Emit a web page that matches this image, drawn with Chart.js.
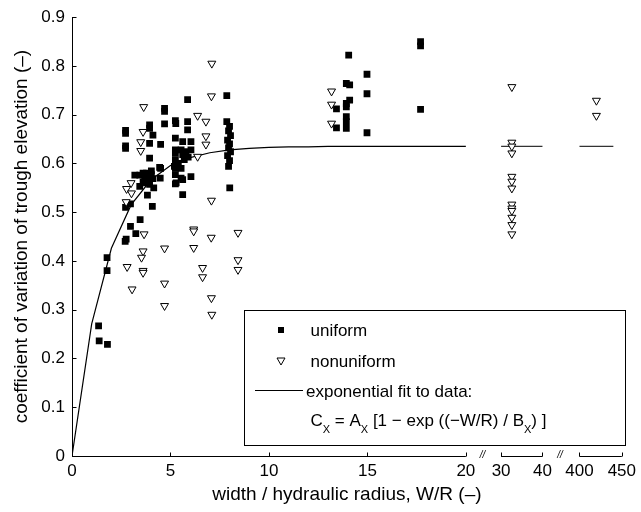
<!DOCTYPE html>
<html>
<head>
<meta charset="utf-8">
<script src="https://cdn.jsdelivr.net/npm/chart.js@4.4.1/dist/chart.umd.min.js"></script>
<style>
  html, body { margin: 0; padding: 0; background: #fff; }
</style>
</head>
<body>
<canvas id="troughChart" width="641" height="512"></canvas>
<script>
const uniformX = [1.35, 1.38, 1.8, 1.78, 1.78,
  2.7, 2.75, 2.72, 2.72, 2.72, 2.72, 2.72, 2.97, 2.97, 3.24, 3.46,
  3.19, 3.44, 3.69, 4.03, 3.44, 3.78, 4.15, 4.48, 3.86, 3.61, 3.94, 4.11, 4.03, 3.61, 3.83, 4.08,
  4.5, 3.94, 3.94, 4.5, 4.11, 3.94, 3.94, 4.7, 4.7, 4.7, 3.78,
  5.25, 5.27, 5.87, 5.87, 5.87, 5.25, 5.62, 6.04, 5.25, 5.25, 5.54, 5.79, 6.04, 5.25, 5.25, 5.25,
  5.54, 5.54, 6.04, 5.25, 5.62, 5.29, 5.62, 5.62, 5.2, 5.4, 5.7, 5.9, 4.45,
  7.86, 7.86, 8.0, 7.95, 8.05, 7.9, 8.0, 7.95, 8.05, 7.9, 8.0, 7.95, 8.01,
  14.05, 14.98, 13.93, 14.1, 14.98, 14.1, 13.93, 13.43, 13.93, 13.93, 13.93, 13.43, 13.93, 14.98,
  17.7, 17.7, 17.7];
const uniformY = [0.267, 0.236, 0.229, 0.407, 0.380,
  0.440, 0.445, 0.510, 0.631, 0.636, 0.662, 0.668, 0.471, 0.517, 0.456, 0.485,
  0.576, 0.576, 0.573, 0.577, 0.553, 0.560, 0.550, 0.570, 0.567, 0.562, 0.557, 0.569, 0.585, 0.580, 0.535, 0.512,
  0.590, 0.611, 0.641, 0.639, 0.658, 0.672, 0.679, 0.713, 0.707, 0.681, 0.580,
  0.688, 0.682, 0.731, 0.686, 0.669, 0.652, 0.645, 0.645, 0.628, 0.621, 0.628, 0.624, 0.628, 0.608, 0.590, 0.577,
  0.590, 0.570, 0.573, 0.558, 0.536, 0.560, 0.567, 0.618, 0.594, 0.600, 0.608, 0.613, 0.592,
  0.739, 0.686, 0.676, 0.667, 0.657, 0.648, 0.640, 0.632, 0.624, 0.616, 0.606, 0.594, 0.550,
  0.822, 0.783, 0.764, 0.761, 0.743, 0.730, 0.723, 0.712, 0.716, 0.696, 0.686, 0.673, 0.672, 0.663,
  0.850, 0.841, 0.711];

const nonuniformX = [7.1, 7.08, 3.64, 6.38, 6.8, 3.61, 3.49, 3.49, 6.8, 6.8, 6.38, 7.08,
  2.77, 3.0, 3.02, 2.75, 3.66, 6.18, 6.18, 7.07, 8.43, 4.7, 6.18, 3.61, 3.53, 2.8, 3.61, 3.61,
  6.63, 6.63, 8.43, 8.43, 4.7, 3.05, 7.08, 4.7, 7.1,
  13.18, 13.18, 13.18,
  32.6, 32.6, 32.6, 32.6, 32.6, 32.6, 32.6, 32.6, 32.6, 32.6, 32.6, 32.6, 32.6,
  420, 420];
const nonuniformY = [0.805, 0.738, 0.716, 0.698, 0.686, 0.665, 0.644, 0.626, 0.656, 0.639, 0.614, 0.524,
  0.548, 0.560, 0.539, 0.521, 0.455, 0.465, 0.461, 0.448, 0.458, 0.426, 0.427, 0.420, 0.407, 0.388, 0.380, 0.376,
  0.386, 0.367, 0.402, 0.382, 0.354, 0.342, 0.324, 0.308, 0.290,
  0.748, 0.721, 0.682,
  0.757, 0.643, 0.635, 0.621, 0.573, 0.563, 0.549, 0.516, 0.508, 0.503, 0.489, 0.474, 0.455,
  0.729, 0.698];

// exponential fit, read at whole W/R steps
const fitX = [0, 1, 2, 3, 4, 5, 6, 7, 8, 9, 10, 11, 12, 13, 14, 15, 16, 17, 18, 19, 20];
const fitY = [0, 0.271, 0.426, 0.515, 0.566, 0.596, 0.612, 0.622, 0.628, 0.631, 0.633, 0.634, 0.634,
  0.635, 0.635, 0.635, 0.635, 0.635, 0.635, 0.635, 0.635];
const plateauMidX = [30, 40];
const plateauFarX = [400, 440];
const plateauY = [0.635, 0.635];

const xTickValues = [0, 5, 10, 15, 20, 30, 40, 400, 450];
const xTickLabels = ['0', '5', '10', '15', '20', '30', '40', '400', '450'];
const yTickLabels = ['0', '0.1', '0.2', '0.3', '0.4', '0.5', '0.6', '0.7', '0.8', '0.9'];

// broken x axis: each piece gets its own start and stretch on a common linear scale
const segments = [
  { from: 0, to: 20, start: 0, k: 1 },
  { from: 30, to: 40, start: 21.79, k: 0.21 },
  { from: 400, to: 450, start: 25.77, k: 0.043 }
];
function axisPos(v) {
  let s = segments[0];
  if (v > 25) s = segments[1];
  if (v > 100) s = segments[2];
  return s.start + (v - s.from) * s.k;
}
const toPoints = (xs, ys) => xs.map((v, i) => ({ x: axisPos(v), y: ys[i] }));

const FONT = '"Liberation Sans", Arial, sans-serif';

const axesPlugin = {
  id: 'brokenAxes',
  afterDatasetsDraw(chart) {
    const { ctx, scales: { x, y } } = chart;
    const y0 = Math.round(y.getPixelForValue(0)) + 0.5;
    const xl = Math.round(x.getPixelForValue(0)) + 0.5;
    ctx.save();
    ctx.strokeStyle = '#000';
    ctx.lineWidth = 1;
    ctx.beginPath();
    ctx.moveTo(xl, Math.round(y.getPixelForValue(0.9)));
    ctx.lineTo(xl, y0);
    y.ticks.forEach(t => {
      const py = Math.round(y.getPixelForValue(t.value)) + 0.5;
      ctx.moveTo(xl, py);
      ctx.lineTo(xl + 4, py);
    });
    segments.forEach(s => {
      ctx.moveTo(x.getPixelForValue(axisPos(s.from)), y0);
      ctx.lineTo(x.getPixelForValue(axisPos(s.to)), y0);
    });
    xTickValues.forEach(v => {
      const px = Math.round(x.getPixelForValue(axisPos(v))) + 0.5;
      ctx.moveTo(px, y0);
      ctx.lineTo(px, y0 - 4);
    });
    ctx.stroke();

    // break marks
    ctx.fillStyle = '#000';
    ctx.font = 'italic 10px ' + FONT;
    ctx.textAlign = 'center';
    ctx.textBaseline = 'middle';
    for (let i = 0; i < segments.length - 1; i++) {
      const a = x.getPixelForValue(axisPos(segments[i].to));
      const b = x.getPixelForValue(axisPos(segments[i + 1].from));
      ctx.fillText('//', (a + b) / 2 - 1, y0 - 1);
    }
    ctx.restore();
  },
  afterDraw(chart) {
    const ctx = chart.ctx;
    const box = { l: 244.5, t: 310.5, r: 625.5, b: 445.5 };
    ctx.save();
    ctx.fillStyle = '#fff';
    ctx.fillRect(box.l, box.t, box.r - box.l, box.b - box.t);
    ctx.strokeStyle = '#000';
    ctx.lineWidth = 1;
    ctx.strokeRect(box.l, box.t, box.r - box.l, box.b - box.t);

    const mx = 281, tx = 310.5;
    // square marker
    ctx.fillStyle = '#000';
    ctx.fillRect(mx - 3, 327, 6, 6);
    // triangle marker
    ctx.beginPath();
    ctx.moveTo(mx - 4, 358);
    ctx.lineTo(mx + 4, 358);
    ctx.lineTo(mx, 365);
    ctx.closePath();
    ctx.stroke();
    // line sample
    ctx.beginPath();
    ctx.moveTo(255, 390.5);
    ctx.lineTo(303, 390.5);
    ctx.stroke();

    ctx.font = '17px ' + FONT;
    ctx.textAlign = 'left';
    ctx.textBaseline = 'alphabetic';
    ctx.fillText('uniform', tx, 336);
    ctx.fillText('nonuniform', tx, 366.5);
    ctx.fillText('exponential fit to data:', 306, 396.5);

    const parts = [['C', 0], ['X', 1], [' = A', 0], ['X', 1], [' [1 \u2212 exp ((\u2212W/R) / B', 0], ['X', 1], [') ]', 0]];
    let cx = tx;
    parts.forEach(([txt, sub]) => {
      ctx.font = (sub ? '11px ' : '17px ') + FONT;
      ctx.fillText(txt, cx, sub ? 433 : 426);
      cx += ctx.measureText(txt).width;
    });
    ctx.restore();
  }
};

new Chart(document.getElementById('troughChart'), {
  type: 'scatter',
  data: {
    datasets: [
      {
        label: 'nonuniform',
        data: toPoints(nonuniformX, nonuniformY),
        pointStyle: 'triangle',
        rotation: 180,
        pointRadius: 4.6,
        backgroundColor: '#fff',
        borderColor: '#000',
        borderWidth: 1,
        order: 1
      },
      {
        label: 'uniform',
        data: toPoints(uniformX, uniformY),
        pointStyle: 'rect',
        pointRadius: 4.8,
        backgroundColor: '#000',
        borderColor: '#000',
        borderWidth: 0,
        order: 2
      },
      {
        label: 'exponential fit to data',
        data: toPoints(fitX, fitY),
        showLine: true,
        pointRadius: 0,
        borderColor: '#000',
        borderWidth: 1.2,
        order: 3
      },
      {
        label: 'fit 30-40',
        data: toPoints(plateauMidX, plateauY),
        showLine: true,
        pointRadius: 0,
        borderColor: '#333',
        borderWidth: 1.3,
        order: 3
      },
      {
        label: 'fit 400-450',
        data: toPoints(plateauFarX, plateauY),
        showLine: true,
        pointRadius: 0,
        borderColor: '#333',
        borderWidth: 1.3,
        order: 3
      }
    ]
  },
  options: {
    responsive: false,
    animation: false,
    devicePixelRatio: 1,
    events: [],
    layout: { padding: { top: 15, right: 15, left: 0, bottom: 0 } },
    plugins: {
      legend: { display: false },
      tooltip: { enabled: false }
    },
    scales: {
      x: {
        type: 'linear',
        min: 0,
        max: axisPos(450),
        afterBuildTicks(scale) {
          scale.ticks = xTickValues.map(v => ({ value: axisPos(v) }));
        },
        afterFit(scale) { scale.height = 56; },
        grid: { display: false, drawTicks: false },
        border: { display: false },
        ticks: {
          autoSkip: false,
          maxRotation: 0,
          padding: 5,
          color: '#000',
          font: { family: FONT, size: 17 },
          callback: (val, i) => xTickLabels[i]
        },
        title: {
          display: true,
          text: 'width / hydraulic radius, W/R (\u2013)',
          color: '#000',
          font: { family: FONT, size: 19 },
          padding: { top: 0, bottom: 6 }
        }
      },
      y: {
        min: 0,
        max: 0.9,
        afterFit(scale) { scale.width = 72; },
        grid: { display: false, drawTicks: false },
        border: { display: false },
        ticks: {
          stepSize: 0.1,
          padding: 7,
          color: '#000',
          font: { family: FONT, size: 17 },
          callback: (val, i) => yTickLabels[i]
        },
        title: {
          display: true,
          text: 'coefficient of variation of trough elevation (\u2013)',
          color: '#000',
          font: { family: FONT, size: 19 },
          padding: { top: 10, bottom: 0 }
        }
      }
    }
  },
  plugins: [axesPlugin]
});
</script>
</body>
</html>
